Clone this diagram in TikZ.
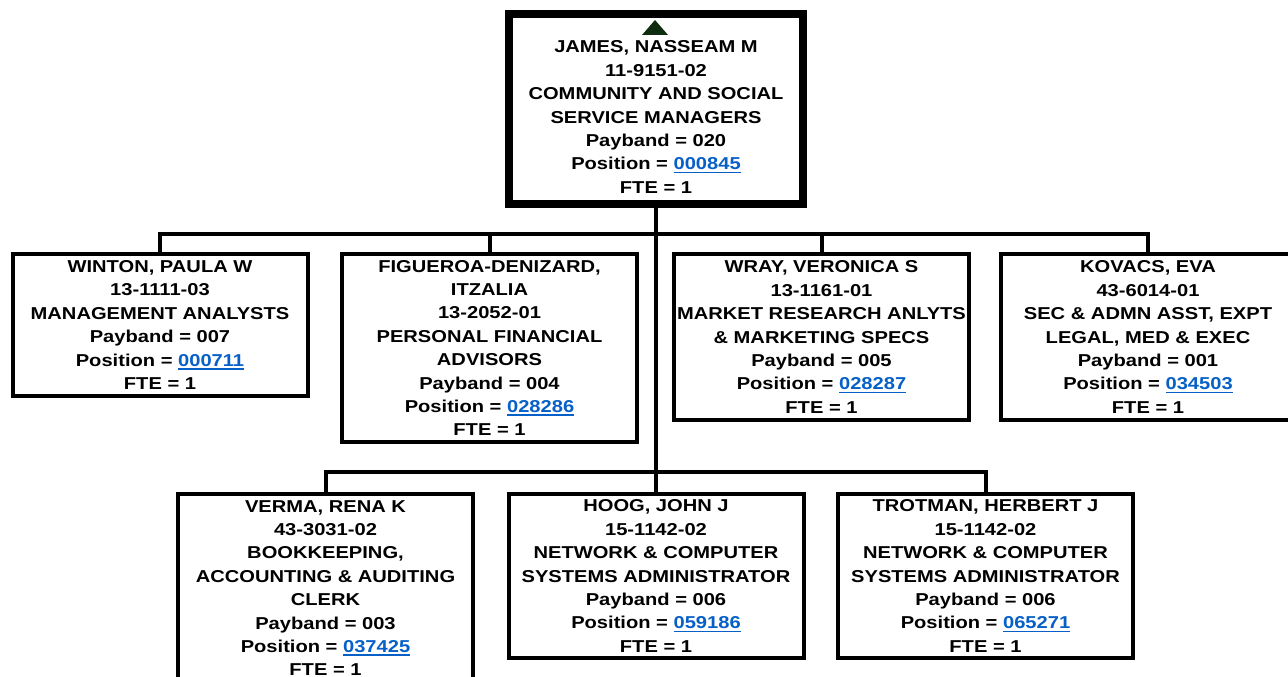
\documentclass[tikz,border=0pt]{standalone}
\usepackage{fontspec}
\setmainfont{Liberation Sans}[FakeStretch=1.17]
\usepackage{tikz}
\usetikzlibrary{positioning}
\usepackage{xcolor}
\definecolor{linkblue}{RGB}{6,96,200}
\definecolor{markgreen}{RGB}{14,44,14}
\newcommand{\chartfont}{\fontsize{17.2pt}{23.4pt}\selectfont\bfseries}
\newcommand{\posn}[1]{\textcolor{linkblue}{\setbox0\hbox{#1}\rlap{\rule[-3.6pt]{\wd0}{1.9pt}}\box0}}
\tikzset{
  staff/.style   ={draw, line width=4pt, fill=white, minimum width=295pt, inner sep=0pt, align=center, font=\chartfont},
  head/.style    ={draw, line width=8pt, fill=white, minimum width=294pt, minimum height=190pt, inner sep=0pt},
  headtxt/.style ={align=center, inner sep=0pt, font=\chartfont},
  wire/.style    ={line width=4pt},                 % reporting line
  upmark/.style  ={fill=markgreen},
}

\begin{document}
\begin{tikzpicture}[x=1pt, y=-1pt]
  \clip (0,0) rectangle (1288,677);
  \fill[white] (0,0) rectangle (1288,677);
  % manager
  \node[head] (james) at (656,109) {};
  \node[headtxt] (jamestxt) at (656,117) {JAMES, NASSEAM M\\11-9151-02\\COMMUNITY AND SOCIAL\\SERVICE MANAGERS\\Payband = 020\\Position = \posn{000845}\\FTE = 1};
  \fill[upmark] (642,35) -- (668,35) -- (655,20) -- cycle;
  % first row
  \node[staff, minimum height=142pt] (winton) at (160,325) {WINTON, PAULA W\\13-1111-03\\MANAGEMENT ANALYSTS\\Payband = 007\\Position = \posn{000711}\\FTE = 1};
  \node[staff, minimum height=188pt] (figueroa) at (489.5,348) {FIGUEROA-DENIZARD,\\ITZALIA\\13-2052-01\\PERSONAL FINANCIAL\\ADVISORS\\Payband = 004\\Position = \posn{028286}\\FTE = 1};
  \node[staff, minimum height=166pt] (wray) at (821.5,337) {WRAY, VERONICA S\\13-1161-01\\MARKET RESEARCH ANLYTS\\\& MARKETING SPECS\\Payband = 005\\Position = \posn{028287}\\FTE = 1};
  \node[staff, minimum height=166pt] (kovacs) at (1148,337) {KOVACS, EVA\\43-6014-01\\SEC \& ADMN ASST, EXPT\\LEGAL, MED \& EXEC\\Payband = 001\\Position = \posn{034503}\\FTE = 1};
  % second row
  \node[staff, minimum height=188pt] (verma) at (325.5,588) {VERMA, RENA K\\43-3031-02\\BOOKKEEPING,\\ACCOUNTING \& AUDITING\\CLERK\\Payband = 003\\Position = \posn{037425}\\FTE = 1};
  \node[staff, minimum height=164pt] (hoog) at (656,576) {HOOG, JOHN J\\15-1142-02\\NETWORK \& COMPUTER\\SYSTEMS ADMINISTRATOR\\Payband = 006\\Position = \posn{059186}\\FTE = 1};
  \node[staff, minimum height=164pt] (trotman) at (985.5,576) {TROTMAN, HERBERT J\\15-1142-02\\NETWORK \& COMPUTER\\SYSTEMS ADMINISTRATOR\\Payband = 006\\Position = \posn{065271}\\FTE = 1};
  % reporting lines
  \foreach \who in {winton, figueroa, wray, kovacs}
    \draw[wire] (james.south) -- ++(0,26) -| (\who.north);
  \foreach \who in {verma, trotman}
    \draw[wire] (james.south) -- ++(0,264) -| (\who.north);
  \draw[wire] (james.south) -- (hoog.north);
\end{tikzpicture}
\end{document}
